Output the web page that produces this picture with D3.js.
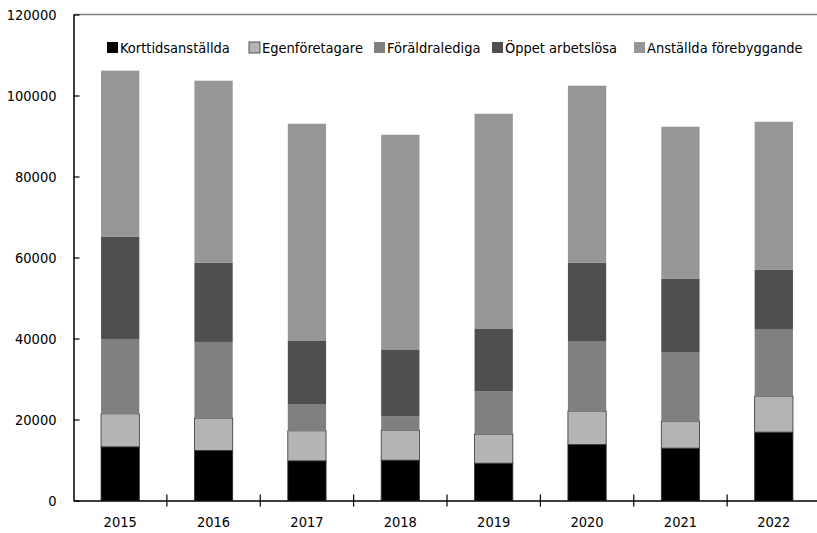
<!DOCTYPE html>
<html>
<head>
<meta charset="utf-8">
<script src="https://cdn.jsdelivr.net/npm/d3@7"></script>
<style>
    body { margin: 0; background: #fff; }
    svg text { font-family: "DejaVu Sans Condensed", "DejaVu Sans", sans-serif; font-stretch: condensed; fill: #000; }
</style>
</head>
<body>
<svg id="chart" width="817" height="533"></svg>
<script>
// data
const years = ['2015', '2016', '2017', '2018', '2019', '2020', '2021', '2022'];
const seriesNames = ['Korttidsanställda', 'Egenföretagare', 'Föräldralediga', 'Öppet arbetslösa', 'Anställda förebyggande'];
const korttid = [13250, 12360, 9790, 9960, 9220, 13840, 12930, 16880];
const egen = [8160, 7990, 7420, 7420, 7170, 8240, 6670, 8900];
const foraldra = [18470, 18800, 6600, 3460, 10630, 17300, 17060, 16570];
const oppet = [25210, 19520, 15570, 16320, 15330, 19290, 18050, 14580];
const anstallda = [41040, 44990, 53650, 53150, 53150, 43750, 37580, 36590];
const yTicks = [0, 20000, 40000, 60000, 80000, 100000, 120000];

const colors = ['#000000', '#b4b4b4', '#808080', '#4f4f4f', '#969696'];
const strokes = ['#333333', '#333333', 'none', 'none', 'none'];

const svg = d3.select('#chart');

const plotLeft = 73.5, plotRight = 820.5, plotTop = 14.5, plotBottom = 500.5;
const fontSize = '14.5px';

const table = years.map((yr, i) => ({
    year: yr,
    [seriesNames[0]]: korttid[i],
    [seriesNames[1]]: egen[i],
    [seriesNames[2]]: foraldra[i],
    [seriesNames[3]]: oppet[i],
    [seriesNames[4]]: anstallda[i]
}));

const stacked = d3.stack().keys(seriesNames)(table);

const x = d3.scaleBand().domain(years).range([plotLeft, plotRight]).padding(0);
const y = d3.scaleLinear().domain([0, 120000]).range([plotBottom, plotTop]);

const barW = x.bandwidth() * 0.41;

// top frame line
svg.append('line')
    .attr('x1', plotLeft).attr('x2', 817)
    .attr('y1', y(120000)).attr('y2', y(120000))
    .attr('stroke', '#808080')
    .attr('stroke-width', 1.5);

// bars
stacked.forEach((s, k) => {
    svg.append('g')
        .selectAll('rect')
        .data(s)
        .enter()
        .append('rect')
        .attr('x', (d) => x(d.data.year) + x.bandwidth() / 2 - barW / 2)
        .attr('y', (d) => y(d[1]))
        .attr('width', barW)
        .attr('height', (d) => y(d[0]) - y(d[1]))
        .attr('fill', colors[k])
        .attr('stroke', strokes[k])
        .attr('stroke-width', 0.8);
});

// y axis
const yAxis = svg.append('g')
    .attr('transform', 'translate(' + plotLeft + ',0)')
    .call(d3.axisLeft(y).tickValues(yTicks).tickFormat(d3.format('d')).tickSizeInner(-6).tickSizeOuter(0).tickPadding(17));
yAxis.select('.domain').attr('stroke', '#000').attr('stroke-width', 1.5);
yAxis.selectAll('.tick line').attr('stroke', '#000').attr('stroke-width', 1.2);
yAxis.selectAll('.tick text').style('font-size', fontSize);

// x axis
const xAxis = svg.append('g')
    .attr('transform', 'translate(0,' + plotBottom + ')')
    .call(d3.axisBottom(x).tickSize(0).tickPadding(16));
xAxis.select('.domain').attr('stroke', '#000').attr('stroke-width', 1.5);
xAxis.selectAll('.tick text').style('font-size', fontSize);

// category separators on the x axis
svg.append('g')
    .selectAll('line')
    .data(years.slice(1))
    .enter()
    .append('line')
    .attr('x1', (d) => x(d))
    .attr('x2', (d) => x(d))
    .attr('y1', plotBottom - 6)
    .attr('y2', plotBottom + 6)
    .attr('stroke', '#000')
    .attr('stroke-width', 1.2);

// legend
const legendX = [107, 249, 374, 492, 634];
const legend = svg.append('g')
    .selectAll('g')
    .data(seriesNames)
    .enter()
    .append('g')
    .attr('transform', (d, i) => 'translate(' + legendX[i] + ',42)');

legend.append('rect')
    .attr('width', 11)
    .attr('height', 11)
    .attr('fill', (d, i) => colors[i])
    .attr('stroke', (d, i) => i == 1 ? '#333' : 'none')
    .attr('stroke-width', 0.8);

legend.append('text')
    .text((d) => d)
    .attr('x', 13)
    .attr('y', 6)
    .attr('dy', '0.35em')
    .style('font-size', fontSize);
</script>
</body>
</html>
